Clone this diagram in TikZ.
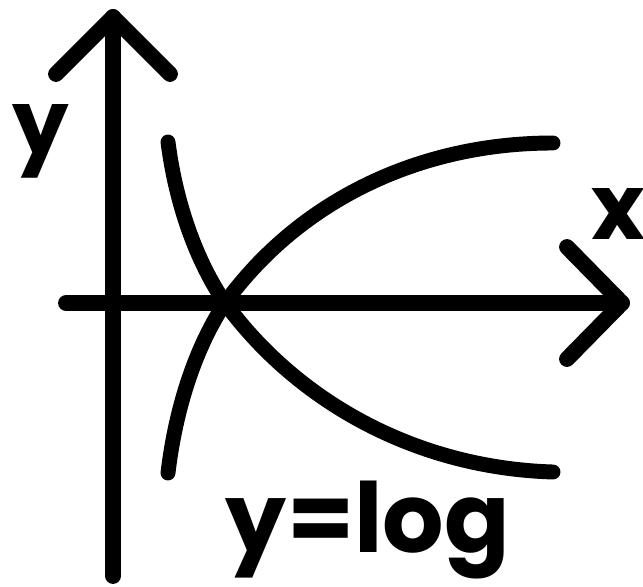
\documentclass[tikz,border=0pt]{standalone}
\usepackage{fontspec}
\setmainfont{Poppins}
\usepackage{tikz}
\usetikzlibrary{positioning}

\begin{document}
\begin{tikzpicture}[
  x=0.02cm, y=-0.02cm,
  axis/.style={line width=9pt, line cap=round, line join=round},
  curve/.style={line width=8.5pt, line cap=round},
  lbl/.style={font=\bfseries\fontsize{55}{55}\selectfont, inner sep=0pt, anchor=base}
]
\fill[white] (0,0) rectangle (643,587);
\useasboundingbox (0,0) rectangle (643,587);
\coordinate (ytop) at (113,17);
\coordinate (ybot) at (113,576);
\coordinate (xleft) at (66,303);
\coordinate (xright) at (622,303);
\coordinate (cross) at (225,303);
\draw[axis] (ybot) -- (ytop);
\draw[axis] (ytop) ++(-57,57) -- (ytop) -- ++(57,57);
\draw[axis] (xleft) -- (xright);
\draw[axis] (xright) ++(-55,-56) -- (xright) -- ++(-55,56);
% the two log curves
\draw[curve] (168,473) .. controls (176,405) and (197,345) .. (cross)
  .. controls (300,200) and (420,143) .. (553,143);
\draw[curve] (168,142) .. controls (176,205) and (197,262) .. (cross)
  .. controls (300,405) and (420,468) .. (553,472);
\node[lbl, font=\bfseries\fontsize{51}{51}\selectfont] (ylabel) at (41,155) {y};
\node[lbl, font=\bfseries\fontsize{52}{52}\selectfont] (xlabel) at (618,240) {x};
\node[lbl] (func) at (368,553) {y=log};
\end{tikzpicture}
\end{document}
